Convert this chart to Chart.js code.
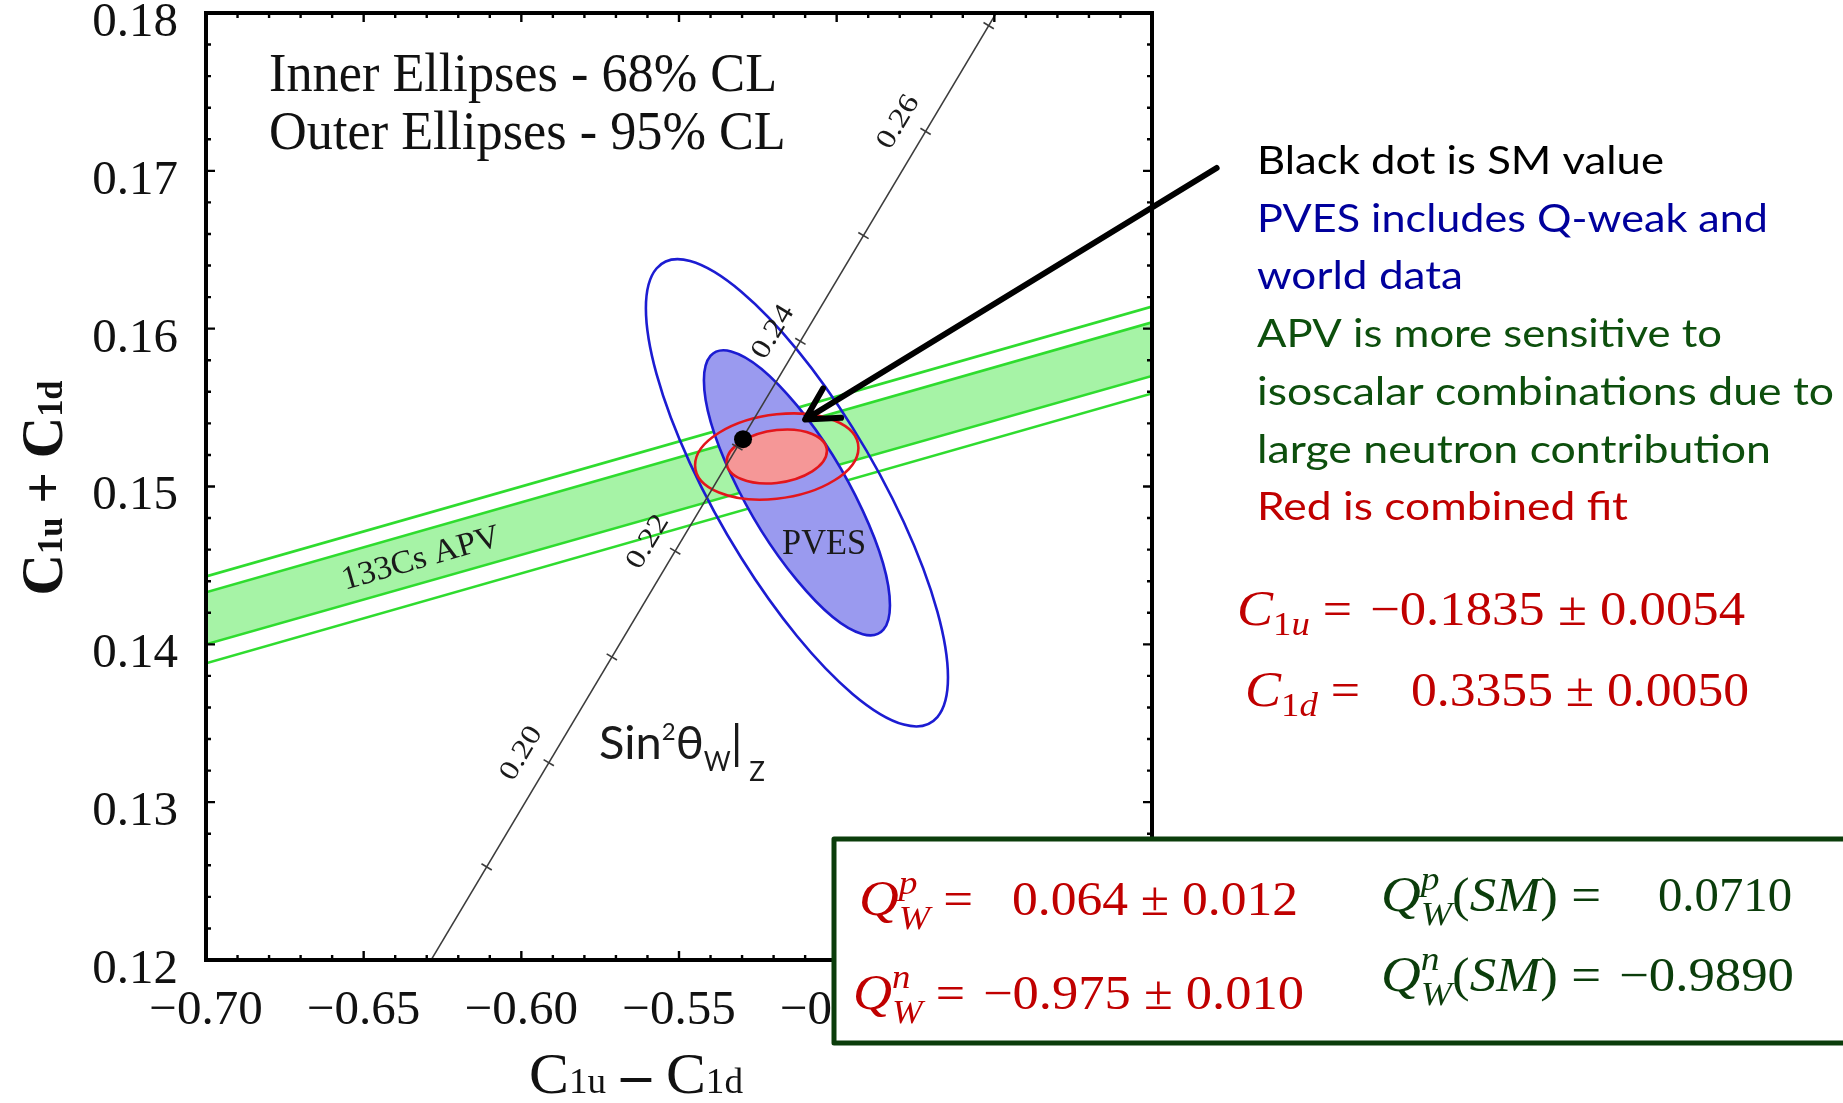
<!DOCTYPE html>
<html>
<head>
<meta charset="utf-8">
<title>Weak couplings C1u, C1d</title>
<script src="https://cdn.jsdelivr.net/npm/chart.js@4.4.1/dist/chart.umd.min.js"></script>
<style>
  html, body { margin: 0; padding: 0; background: #ffffff; }
  canvas { display: block; }
</style>
</head>
<body>
<canvas id="c" width="1843" height="1103"></canvas>
<script>
// ---------- axis ranges and tick labels ----------
const xTickValues = [-0.70, -0.65, -0.60, -0.55, -0.50, -0.45, -0.40];
const yTickValues = [0.12, 0.13, 0.14, 0.15, 0.16, 0.17, 0.18];
const xMinorStep = 0.01;
const yMinorStep = 0.002;

// ---------- 133Cs APV band (C1u-C1d at both plot edges) ----------
const apvX         = [-0.70, -0.40];
const apvOuterHigh = [0.1443, 0.1614];   // 95% CL
const apvInnerHigh = [0.1433, 0.1604];   // 68% CL
const apvInnerLow  = [0.1400, 0.1570];   // 68% CL
const apvOuterLow  = [0.1388, 0.1559];   // 95% CL

// ---------- sin^2(theta_W) line and its tick marks ----------
const sinLineX  = [-0.6286, -0.4494];
const sinLineY  = [0.1200, 0.1800];
const sinTickS2 = [0.19, 0.20, 0.21, 0.22, 0.23, 0.24, 0.25, 0.26, 0.27];
const sinTickX  = [-0.6110, -0.5913, -0.5713, -0.5512, -0.5315, -0.5115, -0.4915, -0.4718, -0.4518];
const sinTickY  = [0.1259, 0.1325, 0.1392, 0.1459, 0.1525, 0.1592, 0.1659, 0.1725, 0.1792];
const sinLabelS2 = [0.20, 0.22, 0.24, 0.26];

// ---------- Standard Model point ----------
const smX = [-0.5297];
const smY = [0.1530];

// ---------- fit ellipses: centre, half-extents along x and y, correlation ----------
const ellipseNames = ['PVES 95%', 'PVES 68%', 'Combined 95%', 'Combined 68%'];
const ellipseCX    = [-0.5126, -0.5126, -0.5190, -0.5190];
const ellipseCY    = [0.1496, 0.1496, 0.1519, 0.1519];
const ellipseSX    = [0.0479, 0.0295, 0.0259, 0.0159];
const ellipseSY    = [0.0148, 0.00903, 0.00273, 0.00171];
const ellipseRho   = [-0.79, -0.79, 0.20, 0.20];

// ---------- annotation arrow (tail, tip) in axis units ----------
const arrowX = [-0.3795, -0.5100];
const arrowY = [0.17018, 0.15424];

// ---------- side notes ----------
const noteLines = [
  'Black dot is SM value',
  'PVES includes Q-weak and',
  'world data',
  'APV is more sensitive to',
  'isoscalar combinations due to',
  'large neutron contribution',
  'Red is combined fit'
];
const noteColors = ['#000000', '#00009c', '#00009c', '#0d4f0d', '#0d4f0d', '#0d4f0d', '#c00000'];
const noteRight  = [1664, 1768, 1463, 1722, 1834, 1771, 1628];

// ---------- look ----------
const SERIF = '"Liberation Serif", "Times New Roman", serif';
const SANS  = 'Lato, "Open Sans", "DejaVu Sans", sans-serif';
const GREEN_LINE = '#2fdc2f';
const GREEN_FILL = '#a6f3a6';
const BLUE = '#1c1cd2';
const BLUE_FILL = '#9a9aef';
const RED = '#e3161c';
const RED_FILL = '#f59797';
const EQ_RED = '#c00000';
const EQ_GREEN = '#0b3d0b';

const pts = (xs, ys) => xs.map((x, i) => ({ x, y: ys[i] }));
const fmtNum = v => (v < 0 ? '\u2212' : '') + Math.abs(v).toFixed(2);

// rich text: a list of runs, each {t, f, dy} or {stack:[...]} for stacked sub/superscripts
function runsWidth(ctx, runs) {
  let w = 0;
  for (const r of runs) {
    if (r.stack) {
      let m = 0;
      for (const s of r.stack) { ctx.font = s.f; m = Math.max(m, ctx.measureText(s.t).width); }
      w += m;
    } else {
      ctx.font = r.f; w += ctx.measureText(r.t).width;
    }
  }
  return w;
}
function drawRuns(ctx, runs, x, y, color, width, align) {
  const nat = runsWidth(ctx, runs);
  const s = width ? width / nat : 1;
  const total = nat * s;
  const x0 = align === 'right' ? x - total : (align === 'center' ? x - total / 2 : x);
  ctx.save();
  ctx.translate(x0, y);
  ctx.scale(s, 1);
  ctx.fillStyle = color;
  ctx.textAlign = 'left';
  ctx.textBaseline = 'alphabetic';
  let cx = 0;
  for (const r of runs) {
    if (r.stack) {
      let m = 0;
      for (const q of r.stack) {
        ctx.font = q.f; ctx.fillText(q.t, cx, q.dy || 0);
        m = Math.max(m, ctx.measureText(q.t).width);
      }
      cx += m;
    } else {
      ctx.font = r.f; ctx.fillText(r.t, cx, r.dy || 0);
      cx += ctx.measureText(r.t).width;
    }
  }
  ctx.restore();
}
const it = (s, fam) => `italic ${s}px ${fam || SERIF}`;
const rm = (s, fam) => `${s}px ${fam || SERIF}`;

// ellipse path from centre, half-extents and correlation, mapped through the scales
function ellipsePath(ctx, chart, i) {
  const xs = chart.scales.x, ys = chart.scales.y;
  const cx = xs.getPixelForValue(ellipseCX[i]);
  const cy = ys.getPixelForValue(ellipseCY[i]);
  const rho = ellipseRho[i];
  const ux = xs.getPixelForValue(ellipseCX[i] + ellipseSX[i]) - cx;
  const uy = ys.getPixelForValue(ellipseCY[i] + rho * ellipseSY[i]) - cy;
  const vy = ys.getPixelForValue(ellipseCY[i] + Math.sqrt(1 - rho * rho) * ellipseSY[i]) - cy;
  ctx.save();
  ctx.transform(ux, uy, 0, vy, cx, cy);
  ctx.beginPath();
  ctx.arc(0, 0, 1, 0, Math.PI * 2);
  ctx.closePath();
  ctx.restore();
}

function sinLineDir(chart) {
  const xs = chart.scales.x, ys = chart.scales.y;
  const dx = xs.getPixelForValue(sinLineX[1]) - xs.getPixelForValue(sinLineX[0]);
  const dy = ys.getPixelForValue(sinLineY[1]) - ys.getPixelForValue(sinLineY[0]);
  const L = Math.hypot(dx, dy);
  return { x: dx / L, y: dy / L };
}

const SIN_LINE_INDEX = 4;

const ellipsesPlugin = {
  id: 'ellipses',
  beforeDatasetDraw(chart, args) {
    if (args.index !== SIN_LINE_INDEX) return;
    const ctx = chart.ctx;
    ctx.save();
    ctx.lineWidth = 2.6;
    // PVES 95%
    ellipsePath(ctx, chart, 0); ctx.strokeStyle = BLUE; ctx.stroke();
    // PVES 68%
    ellipsePath(ctx, chart, 1); ctx.fillStyle = BLUE_FILL; ctx.fill(); ctx.strokeStyle = BLUE; ctx.stroke();
    // Combined 95%
    ellipsePath(ctx, chart, 2); ctx.strokeStyle = RED; ctx.stroke();
    // Combined 68%
    ellipsePath(ctx, chart, 3); ctx.fillStyle = RED_FILL; ctx.fill(); ctx.strokeStyle = RED; ctx.stroke();
    ctx.restore();
  }
};

const framePlugin = {
  id: 'frame',
  afterDatasetsDraw(chart) {
    const { ctx, chartArea: a, scales: { x, y } } = chart;
    ctx.save();
    ctx.strokeStyle = '#000';
    ctx.lineWidth = 2.4;
    ctx.beginPath();
    const nx = Math.round((x.max - x.min) / xMinorStep);
    for (let i = 0; i <= nx; i++) {
      const p = x.getPixelForValue(x.min + i * xMinorStep);
      const L = i % 5 === 0 ? 9 : 5;
      ctx.moveTo(p, a.bottom); ctx.lineTo(p, a.bottom - L);
      ctx.moveTo(p, a.top); ctx.lineTo(p, a.top + L);
    }
    const ny = Math.round((y.max - y.min) / yMinorStep);
    for (let j = 0; j <= ny; j++) {
      const p = y.getPixelForValue(y.min + j * yMinorStep);
      const L = j % 5 === 0 ? 9 : 5;
      ctx.moveTo(a.left, p); ctx.lineTo(a.left + L, p);
      ctx.moveTo(a.right, p); ctx.lineTo(a.right - L, p);
    }
    ctx.stroke();
    ctx.lineWidth = 4;
    ctx.strokeRect(a.left, a.top, a.right - a.left, a.bottom - a.top);

    // labels inside the plot
    const X = v => x.getPixelForValue(v), Y = v => y.getPixelForValue(v);
    ctx.fillStyle = '#111';
    ctx.font = rm(54);
    const w1 = ctx.measureText('Inner Ellipses - 68% CL').width;
    const sc = 508 / w1;
    drawRuns(ctx, [{ t: 'Inner Ellipses - 68% CL', f: rm(54) }], X(-0.6800), Y(0.17506), '#111', w1 * sc);
    ctx.font = rm(54);
    const w2 = ctx.measureText('Outer Ellipses - 95% CL').width;
    drawRuns(ctx, [{ t: 'Outer Ellipses - 95% CL', f: rm(54) }], X(-0.6800), Y(0.17138), '#111', w2 * sc);

    // band label, along the band
    const bdx = X(apvX[1]) - X(apvX[0]);
    const bdy = Y(apvInnerHigh[1]) - Y(apvInnerHigh[0]);
    const bang = Math.atan2(bdy, bdx);
    ctx.save();
    ctx.translate(X(-0.6320), Y(0.14555));
    ctx.rotate(bang);
    drawRuns(ctx, [{ t: '133Cs APV', f: rm(33) }], 0, 11, '#1a1a1a', 163, 'center');
    ctx.restore();

    // PVES label
    drawRuns(ctx, [{ t: 'PVES', f: rm(36) }], X(-0.5040), Y(0.14575), '#1a1a1a', 84, 'center');

    // sin^2 theta_W scale labels along the line
    const d = sinLineDir(chart);
    const n = { x: d.y, y: -d.x };
    const ang = Math.atan2(d.y, d.x);
    sinLabelS2.forEach(s2 => {
      const k = sinTickS2.findIndex(v => Math.abs(v - s2) < 1e-9);
      const px = X(sinTickX[k]), py = Y(sinTickY[k]);
      const cx = px + n.x * 28 - d.x * 6, cy = py + n.y * 28 - d.y * 6;
      ctx.save();
      ctx.translate(cx, cy);
      ctx.rotate(ang);
      ctx.font = rm(28);
      ctx.fillStyle = '#1a1a1a';
      ctx.textAlign = 'center';
      ctx.textBaseline = 'middle';
      const w = ctx.measureText(s2.toFixed(2)).width;
      ctx.scale(58 / w, 1);
      ctx.fillText(s2.toFixed(2), 0, 0);
      ctx.restore();
    });

    // Sin^2 theta_W |_Z
    drawRuns(ctx, [
      { t: 'Sin', f: rm(47, SANS) },
      { t: '2', f: rm(24, SANS), dy: -19 },
      { t: '\u03b8', f: rm(47, SANS) },
      { t: 'W', f: rm(26, SANS), dy: 12 },
      { t: '|', f: rm(47, SANS) },
      { t: ' Z', f: rm(26, SANS), dy: 22 }
    ], X(-0.5754), Y(0.13273), '#1a1a1a', 166);
    ctx.restore();
  }
};

const overlayPlugin = {
  id: 'overlay',
  afterDraw(chart) {
    const { ctx, scales: { x, y } } = chart;
    const X = v => x.getPixelForValue(v), Y = v => y.getPixelForValue(v);
    ctx.save();

    // arrow towards the combined fit
    const tx = X(arrowX[0]), ty = Y(arrowY[0]);
    const hx = X(arrowX[1]), hy = Y(arrowY[1]);
    const a = Math.atan2(hy - ty, hx - tx);
    ctx.strokeStyle = '#000';
    ctx.lineWidth = 6;
    ctx.lineCap = 'round';
    ctx.lineJoin = 'round';
    ctx.beginPath();
    ctx.moveTo(tx, ty); ctx.lineTo(hx - 2 * Math.cos(a), hy - 2 * Math.sin(a));
    const hl = 36, ha = 0.5;
    ctx.moveTo(hx - hl * Math.cos(a - ha), hy - hl * Math.sin(a - ha));
    ctx.lineTo(hx, hy);
    ctx.lineTo(hx - hl * Math.cos(a + ha), hy - hl * Math.sin(a + ha));
    ctx.stroke();

    // side notes
    noteLines.forEach((t, i) => {
      drawRuns(ctx, [{ t, f: rm(38, SANS) }], 1257, 174 + i * 57.7, noteColors[i], noteRight[i] - 1257);
    });

    // combined-fit couplings
    const cLhs = (a1, a2) => [
      { t: 'C', f: it(50) },
      { t: a1, f: rm(34), dy: 10 },
      { t: a2, f: it(34), dy: 10 },
      { t: ' =', f: rm(48) }
    ];
    drawRuns(ctx, cLhs('1', 'u'), 1237, 625, EQ_RED, 115);
    drawRuns(ctx, [{ t: '\u22120.1835 \u00b1 0.0054', f: rm(48) }], 1745, 625, EQ_RED, 375, 'right');
    drawRuns(ctx, cLhs('1', 'd'), 1245, 706, EQ_RED, 115);
    drawRuns(ctx, [{ t: '0.3355 \u00b1 0.0050', f: rm(48) }], 1749, 706, EQ_RED, 338, 'right');

    // weak-charge box
    ctx.fillStyle = '#ffffff';
    ctx.fillRect(832, 837, 1843 - 832 + 10, 1045 - 837);
    ctx.strokeStyle = EQ_GREEN;
    ctx.lineWidth = 5;
    ctx.lineCap = 'butt';
    ctx.strokeRect(834, 839, 1843 - 834 + 10, 1043 - 839);

    const qLhs = (sup, sm) => {
      const r = [
        { t: 'Q', f: it(50) },
        { stack: [{ t: sup, f: it(34), dy: -21 }, { t: 'W', f: it(34), dy: 14 }] }
      ];
      if (sm) r.push({ t: '(', f: rm(48) }, { t: 'SM', f: it(48) }, { t: ')', f: rm(48) });
      r.push({ t: ' =', f: rm(48) });
      return r;
    };
    drawRuns(ctx, qLhs('p', false), 859, 915, EQ_RED, 114);
    drawRuns(ctx, [{ t: '0.064 \u00b1 0.012', f: rm(48) }], 1298, 915, EQ_RED, 286, 'right');
    drawRuns(ctx, qLhs('n', false), 853, 1009, EQ_RED, 112);
    drawRuns(ctx, [{ t: '\u22120.975 \u00b1 0.010', f: rm(48) }], 1304, 1009, EQ_RED, 321, 'right');
    drawRuns(ctx, qLhs('p', true), 1381, 911, EQ_GREEN, 220);
    drawRuns(ctx, [{ t: '0.0710', f: rm(48) }], 1792, 911, EQ_GREEN, 134, 'right');
    drawRuns(ctx, qLhs('n', true), 1381, 991, EQ_GREEN, 220);
    drawRuns(ctx, [{ t: '\u22120.9890', f: rm(48) }], 1794, 991, EQ_GREEN, 175, 'right');

    ctx.restore();
  }
};

// axis titles with subscripts
const titlesPlugin = {
  id: 'titles',
  afterDraw(chart) {
    const ctx = chart.ctx;
    ctx.save();
    // vertical title
    ctx.translate(62, 488);
    ctx.rotate(-Math.PI / 2);
    drawRuns(ctx, [
      { t: 'C', f: `bold 60px ${SERIF}` },
      { t: '1u', f: `bold 36px ${SERIF}` },
      { t: ' + ', f: `bold 58px ${SERIF}` },
      { t: 'C', f: `bold 60px ${SERIF}` },
      { t: '1d', f: `bold 36px ${SERIF}` }
    ], 0, 0, '#111', 215, 'center');
    ctx.restore();
    // horizontal title
    drawRuns(ctx, [
      { t: 'C', f: `58px ${SERIF}` },
      { t: '1u', f: `36px ${SERIF}` },
      { t: ' \u2013 ', f: `bold 58px ${SERIF}` },
      { t: 'C', f: `58px ${SERIF}` },
      { t: '1d', f: `36px ${SERIF}` }
    ], 636, 1093, '#111', 214, 'center');
  }
};

const chart = new Chart(document.getElementById('c'), {
  type: 'scatter',
  data: {
    datasets: [
      { label: 'APV 95% upper', data: pts(apvX, apvOuterHigh), showLine: true, borderColor: GREEN_LINE, borderWidth: 2.6, pointRadius: 0, fill: false, order: 10 },
      { label: 'APV 68% upper', data: pts(apvX, apvInnerHigh), showLine: true, borderColor: GREEN_LINE, borderWidth: 2.6, pointRadius: 0, fill: '+1', backgroundColor: GREEN_FILL, order: 12 },
      { label: 'APV 68% lower', data: pts(apvX, apvInnerLow), showLine: true, borderColor: GREEN_LINE, borderWidth: 2.6, pointRadius: 0, fill: false, order: 10 },
      { label: 'APV 95% lower', data: pts(apvX, apvOuterLow), showLine: true, borderColor: GREEN_LINE, borderWidth: 2.6, pointRadius: 0, fill: false, order: 10 },
      { label: 'sin2 theta_W', data: pts(sinLineX, sinLineY), showLine: true, borderColor: '#3c3c3c', borderWidth: 1.5, pointRadius: 0, fill: false, order: 5 },
      { label: 'sin2 theta_W ticks', data: pts(sinTickX, sinTickY), showLine: false, pointStyle: 'line', pointRadius: 6,
        pointBorderWidth: 1.6, pointBorderColor: '#3c3c3c',
        pointRotation: (c) => { const d = sinLineDir(c.chart); return Math.atan2(d.y, d.x) * 180 / Math.PI + 90; },
        order: 4 },
      { label: 'SM', data: pts(smX, smY), pointRadius: 9, pointBackgroundColor: '#000', pointBorderWidth: 0, order: 1 }
    ]
  },
  options: {
    responsive: false,
    animation: false,
    devicePixelRatio: 1,
    events: [],
    layout: { padding: { left: 0, top: 13, right: 691, bottom: 0 } },
    plugins: { legend: { display: false }, tooltip: { enabled: false }, title: { display: false } },
    scales: {
      x: {
        type: 'linear', position: 'bottom', min: -0.70, max: -0.40,
        afterBuildTicks: s => { s.ticks = xTickValues.map(v => ({ value: v })); },
        afterFit: s => { s.height = 143; s.paddingLeft = 0; s.paddingRight = 0; },
        grid: { display: false, drawTicks: false },
        border: { display: false },
        ticks: { font: { family: SERIF, size: 49 }, color: '#111', padding: 22, maxRotation: 0, autoSkip: false, callback: v => fmtNum(v) }
      },
      y: {
        type: 'linear', position: 'left', min: 0.12, max: 0.18,
        afterBuildTicks: s => { s.ticks = yTickValues.map(v => ({ value: v })); },
        afterFit: s => { s.width = 206; s.paddingTop = 0; s.paddingBottom = 0; },
        grid: { display: false, drawTicks: false },
        border: { display: false },
        ticks: { font: { family: SERIF, size: 49 }, color: '#111', padding: 28, labelOffset: 10, autoSkip: false, callback: v => v.toFixed(2) }
      }
    }
  },
  plugins: [ellipsesPlugin, framePlugin, titlesPlugin, overlayPlugin]
});
</script>
</body>
</html>
